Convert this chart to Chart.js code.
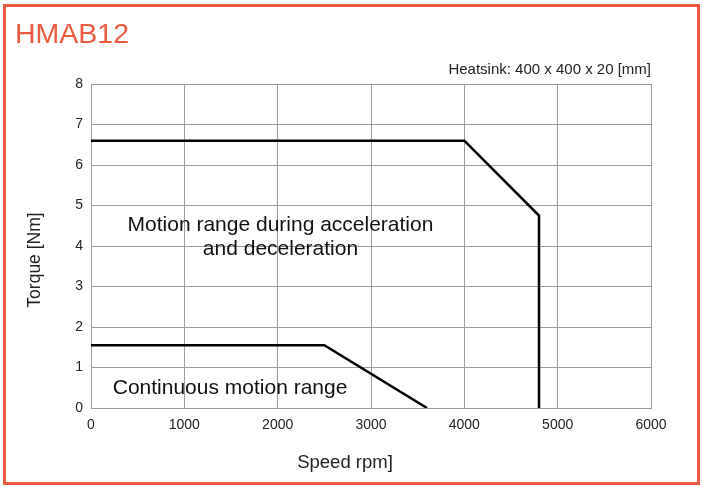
<!DOCTYPE html>
<html>
<head>
<meta charset="utf-8">
<script src="https://cdn.jsdelivr.net/npm/chart.js@4"></script>
<style>
  html, body { margin: 0; padding: 0; background: #fff; }
  #wrap { position: relative; width: 702px; height: 487px; }
</style>
</head>
<body>
<div id="wrap"><canvas id="chart" width="702" height="487"></canvas></div>
<script>
// Dados
const tituloMotor = 'HMAB12';
const notaDissipador = 'Heatsink: 400 x 400 x 20 [mm]';
const rotuloX = 'Speed rpm]';
const rotuloY = 'Torque [Nm]';

// Faixa de aceleração / desaceleração (pico)
const picoRpm = [0, 4000, 4800, 4800];
const picoTorque = [6.6, 6.6, 4.75, 0];

// Faixa contínua
const continuoRpm = [0, 2500, 3600];
const continuoTorque = [1.55, 1.55, 0];

const xTicks = [0, 1000, 2000, 3000, 4000, 5000, 6000];
const yTicks = [0, 1, 2, 3, 4, 5, 6, 7, 8];

const fonte = '"Liberation Sans", Arial, Helvetica, sans-serif';
const laranja = '#EA5A3E';

function pontos(xs, ys) {
    return xs.map((x, i) => ({ x: x, y: ys[i] }));
}

// Plugin para moldura, título e textos da figura
const textosPlugin = {
    id: 'textos',
    afterDraw(chart) {
        const ctx = chart.ctx;
        const area = chart.chartArea;
        const sx = chart.scales.x;
        const sy = chart.scales.y;
        ctx.save();

        // moldura laranja
        ctx.strokeStyle = laranja;
        ctx.lineWidth = 3;
        ctx.strokeRect(4.5, 5.5, 694, 478);

        // título
        ctx.fillStyle = laranja;
        ctx.font = '28.5px ' + fonte;
        ctx.textBaseline = 'middle';
        ctx.textAlign = 'left';
        ctx.fillText(tituloMotor, 15, 35);

        // nota do dissipador
        ctx.fillStyle = '#222';
        ctx.font = '15px ' + fonte;
        ctx.textAlign = 'right';
        ctx.fillText(notaDissipador, area.right, 70);

        // títulos dos eixos
        ctx.font = '18.5px ' + fonte;
        ctx.textAlign = 'center';
        ctx.fillText(rotuloX, 345, 463);
        ctx.save();
        ctx.font = '17.5px ' + fonte;
        ctx.translate(35, 260);
        ctx.rotate(-Math.PI / 2);
        ctx.fillText(rotuloY, 0, 0);
        ctx.restore();

        // anotações das regiões
        ctx.font = '21px ' + fonte;
        ctx.fillStyle = '#111';
        ctx.fillText('Motion range during acceleration', sx.getPixelForValue(2030), 225);
        ctx.fillText('and deceleration', sx.getPixelForValue(2030), 249);
        ctx.fillText('Continuous motion range', sx.getPixelForValue(1490), 388);

        ctx.restore();
    }
};

new Chart(document.getElementById('chart'), {
    type: 'scatter',
    data: {
        datasets: [
            {
                label: 'Pico',
                data: pontos(picoRpm, picoTorque),
                showLine: true,
                borderColor: '#000',
                borderWidth: 2.5,
                pointRadius: 0,
                tension: 0
            },
            {
                label: 'Contínuo',
                data: pontos(continuoRpm, continuoTorque),
                showLine: true,
                borderColor: '#000',
                borderWidth: 2.5,
                pointRadius: 0,
                tension: 0
            }
        ]
    },
    options: {
        responsive: false,
        animation: false,
        devicePixelRatio: 1,
        layout: { padding: { left: 0, top: 84, right: 51, bottom: 0 } },
        plugins: {
            legend: { display: false },
            tooltip: { enabled: false }
        },
        scales: {
            x: {
                type: 'linear',
                min: 0,
                max: 6000,
                afterBuildTicks: (axis) => { axis.ticks = xTicks.map(v => ({ value: v })); },
                afterFit: (axis) => { axis.height = 79; },
                grid: { color: '#9a9a9a', lineWidth: 1, drawTicks: false },
                border: { color: '#9a9a9a', width: 1 },
                ticks: {
                    color: '#222',
                    padding: 9,
                    maxRotation: 0,
                    font: { family: fonte, size: 14 },
                    callback: (v) => String(v)
                }
            },
            y: {
                type: 'linear',
                min: 0,
                max: 8,
                afterBuildTicks: (axis) => { axis.ticks = yTicks.map(v => ({ value: v })); },
                afterFit: (axis) => { axis.width = 91; },
                grid: { color: '#9a9a9a', lineWidth: 1, drawTicks: false },
                border: { color: '#9a9a9a', width: 1 },
                ticks: {
                    color: '#222',
                    padding: 8,
                    font: { family: fonte, size: 14 },
                    callback: (v) => String(v)
                }
            }
        }
    },
    plugins: [textosPlugin]
});
</script>
</body>
</html>
